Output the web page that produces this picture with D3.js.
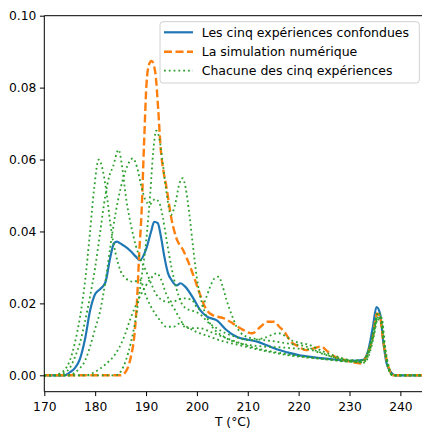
<!DOCTYPE html>
<html>
<head>
<meta charset="utf-8">
<script src="https://cdn.jsdelivr.net/npm/d3@7"></script>
<style>
  html, body { margin: 0; padding: 0; background: #fff; }
  svg { display: block; font-family: "DejaVu Sans", sans-serif; }
</style>
</head>
<body>
<svg id="chart" width="422" height="429"></svg>
<script>
// ---- Data ----
const xTicks = [170, 180, 190, 200, 210, 220, 230, 240];
const yTicks = [0.00, 0.02, 0.04, 0.06, 0.08, 0.10];
const legendLabels = ["Les cinq expériences confondues", "La simulation numérique", "Chacune des cinq expériences"];

const combined = [[170,0],[174,0],[175,0.0008],[176,0.002],[177,0.0045],[178,0.01],[179,0.018],[180,0.0226],[181,0.024],[182,0.0258],[183,0.033],[183.7,0.0367],[184.3,0.0372],[185,0.0366],[186,0.0357],[187,0.0345],[188,0.033],[188.8,0.032],[190,0.035],[191,0.040],[191.6,0.0427],[192.3,0.0423],[193,0.038],[193.6,0.033],[194.3,0.0285],[195,0.0265],[196,0.025],[196.8,0.0256],[197.6,0.0248],[199.3,0.0214],[200.6,0.0182],[202,0.0163],[204,0.0152],[205.8,0.0126],[207.8,0.0107],[210,0.0099],[212,0.0093],[214,0.0082],[216,0.0071],[218,0.0063],[220,0.0056],[223,0.005],[227,0.0044],[230.5,0.004],[232.7,0.0043],[233.7,0.007],[234.6,0.0135],[235.3,0.019],[236,0.0172],[236.6,0.0098],[237.3,0.0033],[238.3,0.0006],[239,0],[245,0]];

const simulation = [[170,0],[185,0],[186,0.001],[187,0.005],[187.7,0.011],[188.2,0.02],[188.7,0.035],[189.1,0.0446],[189.6,0.064],[190.1,0.0812],[190.6,0.0865],[191.1,0.0874],[191.8,0.0844],[192.4,0.0738],[192.9,0.0627],[193.4,0.057],[194,0.0524],[195,0.0435],[196,0.038],[197.3,0.0348],[198.6,0.0305],[199.5,0.027],[200.3,0.0237],[201.9,0.0182],[203,0.0168],[205.4,0.0158],[207,0.0145],[208.6,0.013],[210.9,0.0117],[212.5,0.0135],[213.9,0.0149],[215.2,0.0149],[216.2,0.0135],[217.2,0.0121],[218.5,0.0093],[220,0.008],[221.4,0.007],[222.8,0.0074],[224.4,0.008],[225.7,0.0066],[226.8,0.0054],[228.5,0.0045],[230.1,0.0038],[232.4,0.0033],[233.3,0.0052],[234.6,0.0107],[235.4,0.0172],[236,0.0163],[236.6,0.0098],[237.3,0.0043],[238,0.001],[238.6,0],[245,0]];

const exp1 = [[170,0],[172,0],[173,0.0005],[174,0.0015],[175,0.004],[176,0.009],[177,0.016],[178,0.026],[179,0.04],[179.8,0.052],[180.7,0.060],[181.5,0.057],[182.3,0.05],[183,0.042],[184,0.034],[185,0.029],[186,0.027],[187.5,0.026],[188.8,0.0265],[190,0.022],[191,0.019],[192.7,0.0154],[194,0.0135],[195.4,0.0135],[196.7,0.0145],[198,0.0135],[200,0.012],[202,0.011],[205,0.0095],[208,0.0085],[211,0.0075],[215,0.0063],[220,0.0052],[225,0.0045],[230,0.0038],[232.5,0.0038],[233.5,0.006],[234.5,0.011],[235.5,0.017],[236.2,0.016],[236.8,0.009],[237.5,0.003],[238.5,0],[245,0]];

const exp2 = [[170,0],[173,0],[174,0.0008],[175,0.002],[176,0.005],[177,0.009],[178,0.015],[179,0.022],[180,0.03],[181,0.04],[182,0.05],[182.8,0.0555],[183.5,0.058],[184.6,0.0627],[185.3,0.058],[186,0.05],[187,0.042],[188,0.036],[189,0.032],[190,0.029],[191,0.0255],[192,0.0225],[193,0.021],[194.7,0.0201],[196.6,0.0159],[197.9,0.0131],[200.6,0.0131],[202.6,0.0121],[205.1,0.0107],[208.4,0.009],[210.4,0.008],[214,0.0068],[218,0.0058],[222,0.005],[226,0.0044],[230,0.0038],[232.5,0.0036],[233.5,0.0055],[234.5,0.01],[235.5,0.0155],[236.2,0.0145],[236.8,0.008],[237.5,0.0025],[238.5,0],[245,0]];

const exp3 = [[170,0],[175,0],[176,0.0008],[177,0.002],[178,0.004],[179,0.008],[180,0.013],[181,0.018],[182,0.026],[183,0.036],[184,0.045],[185,0.052],[186,0.057],[187.4,0.0603],[188.2,0.058],[189,0.053],[189.8,0.049],[190.7,0.0475],[191.8,0.049],[192.6,0.048],[193.3,0.044],[194,0.038],[195,0.03],[196,0.024],[197,0.02],[198,0.0185],[199,0.018],[200,0.0175],[201,0.0165],[202,0.015],[204,0.013],[206,0.0115],[208,0.0105],[210,0.0098],[213,0.0103],[216,0.0117],[219,0.0095],[222,0.0085],[225,0.0065],[228,0.005],[231,0.004],[232.8,0.0038],[233.8,0.006],[234.8,0.012],[235.6,0.0175],[236.2,0.0165],[236.9,0.008],[237.6,0.002],[238.5,0],[245,0]];

const exp4 = [[170,0],[184,0],[185,0.001],[186,0.004],[187,0.009],[188,0.016],[189,0.026],[190,0.037],[190.8,0.05],[191.4,0.062],[192,0.068],[192.6,0.066],[193.2,0.06],[194,0.051],[194.9,0.0446],[195.8,0.048],[196.5,0.053],[197.2,0.0548],[197.8,0.052],[198.5,0.045],[199.3,0.035],[200,0.027],[201,0.02],[202,0.016],[203,0.0135],[205,0.011],[207,0.0095],[210,0.0085],[213,0.008],[216,0.0078],[219,0.0075],[222,0.0072],[225,0.0058],[228,0.0045],[231,0.0038],[232.8,0.0035],[233.8,0.0055],[234.8,0.011],[235.7,0.0165],[236.4,0.0155],[237,0.008],[237.7,0.0025],[238.6,0],[245,0]];

const exp5 = [[170,0],[178,0],[180,0.001],[182,0.003],[184,0.006],[185.5,0.01],[187,0.016],[188.5,0.021],[190,0.025],[191,0.027],[192.1,0.0284],[193,0.0265],[194,0.0225],[195,0.0205],[196,0.0208],[197.3,0.0214],[199,0.021],[200.3,0.0185],[201.2,0.0195],[201.9,0.0219],[202.6,0.0246],[203.5,0.027],[204.3,0.0274],[205,0.025],[205.8,0.021],[206.8,0.017],[207.8,0.0135],[209.8,0.0107],[212,0.01],[215,0.0095],[218,0.0088],[221,0.0082],[224,0.0065],[227,0.005],[230,0.0042],[232.5,0.0042],[233.5,0.006],[234.5,0.0105],[235.5,0.016],[236.2,0.0155],[236.8,0.009],[237.5,0.003],[238.5,0],[245,0]];

const experiments = [exp1, exp2, exp3, exp4, exp5];

// ---- Layout ----
const svg = d3.select("#chart");
const m = { left: 44.3, top: 15.7, right: 425.3, bottom: 391.7 };
const x = d3.scaleLinear().domain([170, 244.9]).range([m.left, m.right]);
const y = d3.scaleLinear().domain([-0.00456, 0.10]).range([m.bottom, m.top]);

const colors = { blue: "#1f77b4", orange: "#ff7f0e", green: "#2ca02c" };

svg.append("clipPath").attr("id", "clip")
  .append("rect").attr("x", m.left).attr("y", m.top)
  .attr("width", m.right - m.left).attr("height", m.bottom - m.top);

const line = d3.line().x(d => x(d[0])).y(d => y(d[1])).curve(d3.curveMonotoneX);

const plot = svg.append("g").attr("clip-path", "url(#clip)");

plot.append("path").datum(combined).attr("d", line)
  .attr("fill", "none").attr("stroke", colors.blue).attr("stroke-width", 2.2)
  .attr("stroke-linejoin", "round");
plot.append("path").datum(simulation).attr("d", line)
  .attr("fill", "none").attr("stroke", colors.orange).attr("stroke-width", 2.4)
  .attr("stroke-dasharray", "8,3.5");
experiments.forEach(e => {
  plot.append("path").datum(e).attr("d", line)
    .attr("fill", "none").attr("stroke", colors.green).attr("stroke-width", 1.8)
    .attr("stroke-dasharray", "1.8,3");
});

// ---- Axes ----
const fs = 12.3;
const xAxis = svg.append("g").attr("transform", `translate(0,${m.bottom})`)
  .call(d3.axisBottom(x).tickValues(xTicks).tickFormat(d3.format("d")).tickSize(4.4).tickPadding(6));
const yAxis = svg.append("g").attr("transform", `translate(${m.left},0)`)
  .call(d3.axisLeft(y).tickValues(yTicks).tickFormat(d3.format(".2f")).tickSize(4.4).tickPadding(3.5));
[xAxis, yAxis].forEach(a => {
  a.select(".domain").remove();
  a.selectAll("line").attr("stroke", "#000").attr("stroke-width", 1);
  a.selectAll("text").attr("font-size", fs).attr("fill", "#000").attr("font-family", "DejaVu Sans");
});

// spines
[[m.left, m.top, m.left, m.bottom], [m.left, m.bottom, m.right, m.bottom],
 [m.left, m.top, m.right, m.top], [m.right, m.top, m.right, m.bottom]].forEach(s => {
  svg.append("line").attr("x1", s[0]).attr("y1", s[1]).attr("x2", s[2]).attr("y2", s[3])
    .attr("stroke", "#000").attr("stroke-width", 1);
});

svg.append("text").attr("x", (m.left + m.right) / 2 - 2).attr("y", 425.5)
  .attr("text-anchor", "middle").attr("font-size", fs).attr("fill", "#000")
  .text("T (°C)");

// ---- Legend ----
const lg = svg.append("g");
lg.append("rect").attr("x", 160).attr("y", 21.7).attr("width", 259.3).attr("height", 61.3)
  .attr("rx", 3).attr("fill", "#fff").attr("fill-opacity", 0.8)
  .attr("stroke", "#d0d0d0").attr("stroke-width", 1);
const styles = [
  { c: colors.blue, w: 2.2, dash: null },
  { c: colors.orange, w: 2.4, dash: "8,3.5" },
  { c: colors.green, w: 1.8, dash: "1.8,3" }
];
const rowY = [32.3, 51.7, 70.7];
legendLabels.forEach((lab, i) => {
  const l = lg.append("line").attr("x1", 164).attr("x2", 193).attr("y1", rowY[i]).attr("y2", rowY[i])
    .attr("stroke", styles[i].c).attr("stroke-width", styles[i].w);
  if (styles[i].dash) l.attr("stroke-dasharray", styles[i].dash);
  lg.append("text").attr("x", 201.7).attr("y", rowY[i]).attr("dy", "0.36em")
    .attr("font-size", 12.5).attr("fill", "#000").text(lab);
});
</script>
</body>
</html>
